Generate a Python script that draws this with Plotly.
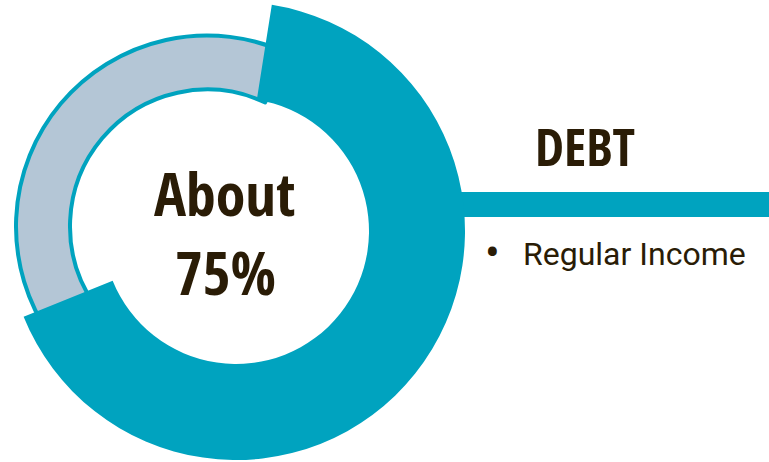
import plotly.graph_objects as go

W, H = 769, 462

# ---- data ----
ring_labels = ["Debt", "Other"]
debt_ring_values = [66.4, 33.6]      # teal arc vs. open gap (as drawn)
other_ring_values = [41.7, 58.3]     # grey arc vs. open gap (as drawn)
center_lines = ["About", "75%"]
heading = "DEBT"
bullet_items = ["Regular Income"]

TEAL = "#00A3BF"
GREY = "#B4C6D6"
INK = "#2A1C06"
BOLD_FONT = "Noto Sans Condensed, Open Sans Condensed, Roboto Condensed, Roboto, sans-serif"
REG_FONT = "Roboto, sans-serif"


def px_domain(cx, cy, r):
    return dict(x=[(cx - r) / W, (cx + r) / W],
                y=[1 - (cy + r) / H, 1 - (cy - r) / H])


fig = go.Figure()

# grey (outlined) ring, drawn first so the teal ring overlaps its ends
fig.add_trace(go.Pie(
    labels=[ring_labels[1], "gap"],
    values=other_ring_values,
    domain=px_domain(207, 226.5, 191),
    hole=137 / 191,
    sort=False,
    direction="clockwise",
    rotation=235,
    textinfo="none",
    hoverinfo="skip",
    showlegend=False,
    marker=dict(colors=[GREY, "rgba(0,0,0,0)"],
                line=dict(color=[TEAL, "rgba(0,0,0,0)"], width=[4, 0])),
))

# thick teal ring
fig.add_trace(go.Pie(
    labels=[ring_labels[0], "gap"],
    values=debt_ring_values,
    domain=px_domain(236, 231, 229),
    hole=133 / 229,
    sort=False,
    direction="clockwise",
    rotation=9,
    textinfo="none",
    hoverinfo="skip",
    showlegend=False,
    marker=dict(colors=[TEAL, "rgba(0,0,0,0)"],
                line=dict(color="rgba(0,0,0,0)", width=0)),
))

# connector bar
fig.add_shape(type="rect", xref="paper", yref="paper",
              x0=460 / W, x1=1, y0=1 - 217 / H, y1=1 - 192 / H,
              fillcolor=TEAL, line=dict(width=0), layer="below")

ann = []
ann.append(dict(text=center_lines[0], x=224.5 / W, y=1 - 193.5 / H,
                font=dict(family=BOLD_FONT, size=60, color=INK, weight="bold")))
ann.append(dict(text=center_lines[1], x=225 / W, y=1 - 271.5 / H,
                font=dict(family=BOLD_FONT, size=60, color=INK, weight="bold")))
ann.append(dict(text=heading, x=585 / W, y=1 - 145 / H,
                font=dict(family=BOLD_FONT, size=52, color=INK, weight="bold")))
for i, item in enumerate(bullet_items):
    yc = 254 + i * 40
    ann.append(dict(text="•", x=492 / W, y=1 - (yc - 1) / H,
                    font=dict(family=REG_FONT, size=44, color=INK)))
    ann.append(dict(text=item, x=521 / W, y=1 - yc / H, xanchor="left",
                    font=dict(family=REG_FONT, size=32, color=INK)))
for a in ann:
    a.setdefault("xanchor", "center")
    a.update(xref="paper", yref="paper", yanchor="middle", showarrow=False)

fig.update_layout(
    width=W, height=H,
    margin=dict(l=0, r=0, t=0, b=0),
    paper_bgcolor="white", plot_bgcolor="white",
    annotations=ann,
)

fig.write_html("out.html", config={"displayModeBar": False},
               post_script="document.body.style.margin='0px';")
